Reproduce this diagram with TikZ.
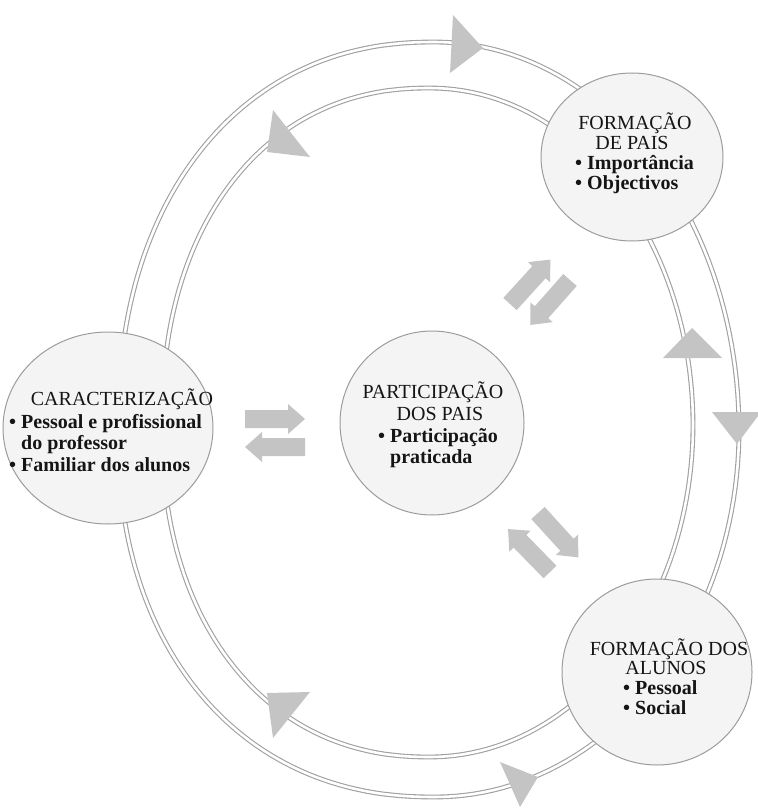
\documentclass[tikz,border=0pt]{standalone}
\usepackage{fontspec}
\setmainfont{Liberation Serif}
\usetikzlibrary{shapes.geometric}
\definecolor{ringedge}{HTML}{A0A0A0}
\definecolor{tipfill}{HTML}{C4C4C4}
\definecolor{bubbleline}{HTML}{9C9C9C}
\definecolor{bubblefill}{HTML}{F4F4F4}
\definecolor{ink}{HTML}{151515}
% rounded ring: centre (#1,#2), half widths left/right #3/#4, half heights top/bottom #5/#6,
% the left half slightly squarer than an ellipse
\newcommand{\ringpath}[6]{%
  plot[domain=0:90, samples=50, variable=\t]
    ({#1+#4*cos(\t)}, {#2-#5*sin(\t)})
  -- plot[domain=90.3:179.7, samples=60, variable=\t]
    ({#1-#3*pow(-cos(\t),0.909)}, {#2-#5*pow(sin(\t),0.909)})
  -- plot[domain=180.3:269.7, samples=60, variable=\t]
    ({#1-#3*pow(-cos(\t),0.909)}, {#2+#6*pow(-sin(\t),0.909)})
  -- plot[domain=270:360, samples=50, variable=\t]
    ({#1+#4*cos(\t)}, {#2-#6*sin(\t)})
  -- cycle}
\begin{document}
\begin{tikzpicture}[x=1pt,y=-1pt,
  ring/.style={draw=ringedge, double=white, line width=1.1pt, double distance=2.6pt, line join=round},
  bubble/.style={ellipse, draw=bubbleline, line width=1pt, fill=bubblefill, inner sep=0pt},
  tip/.style={fill=tipfill},
  head/.style={font=\fontsize{20}{22}\selectfont, text=ink, inner sep=0pt, anchor=base},
  item/.style={font=\fontsize{20}{22}\selectfont\bfseries, text=ink, inner sep=0pt, anchor=base west},
  pics/barrow/.style={code={
    \fill[tipfill] (0,-9) -- (43,-9) -- (43,-15) -- (60,0) -- (43,15) -- (43,9) -- (0,9) -- cycle;}}
]
\useasboundingbox (0,0) rectangle (757,810);

% outer and inner cycle rings
\draw[ring] \ringpath{435}{430}{317}{304}{388}{367};
\draw[ring] \ringpath{430}{425}{268}{263}{337}{332};

% direction marks on the rings
\fill[tip] (453,15) -- (483,48) -- (450,73) -- cycle;
\fill[tip] (273,110) -- (310,157) -- (267,152) -- cycle;
\fill[tip] (692,328) -- (663,358) -- (722,358) -- cycle;
\fill[tip] (712,412) -- (761,412) -- (737,444) -- cycle;
\fill[tip] (267,693) -- (310,692) -- (273,738) -- cycle;
\fill[tip] (500,762) -- (520,807) -- (538,777) -- cycle;

% the four themes
\node[bubble, minimum width=210pt, minimum height=192pt] (carac) at (108,428) {};
\node[bubble, minimum width=184pt, minimum height=184pt] (part) at (432,423) {};
\node[bubble, minimum width=182pt, minimum height=168pt] (fpais) at (632,157) {};
\node[bubble, minimum width=190pt, minimum height=186pt] (falunos) at (657,672) {};

% exchange arrows between the centre and the themes
\pic at (245,419) {barrow};
\pic[rotate=180] at (305,447) {barrow};
\pic[rotate=47.7] at (510,304) {barrow};
\pic[rotate=228.5] at (570,280) {barrow};
\pic[rotate=134.3] at (550,572) {barrow};
\pic[rotate=-47.7] at (538,513) {barrow};

% texts
\node[head] (caracH) at (122,405) {CARACTERIZAÇÃO};
\node[item] (caracA) at (9,428) {• Pessoal e profissional};
\node[item] (caracB) at (9,449) {\hphantom{• }do professor};
\node[item] (caracC) at (9,471) {• Familiar dos alunos};

\node[head] (partH1) at (433,398) {PARTICIPAÇÃO};
\node[head] (partH2) at (440,420) {DOS PAIS};
\node[item] (partA) at (378,442) {• Participação};
\node[item] (partB) at (378,463) {\hphantom{• }praticada};

\node[head] (fpaisH1) at (635,130) {FORMAÇÃO};
\node[head] (fpaisH2) at (632,150) {DE PAIS};
\node[item] (fpaisA) at (575,170) {• Importância};
\node[item] (fpaisB) at (575,190) {• Objectivos};

\node[head] (falH1) at (669,655) {FORMAÇÃO DOS};
\node[head] (falH2) at (666,674) {ALUNOS};
\node[item] (falA) at (623,694) {• Pessoal};
\node[item] (falB) at (623,714) {• Social};
\end{tikzpicture}
\end{document}
